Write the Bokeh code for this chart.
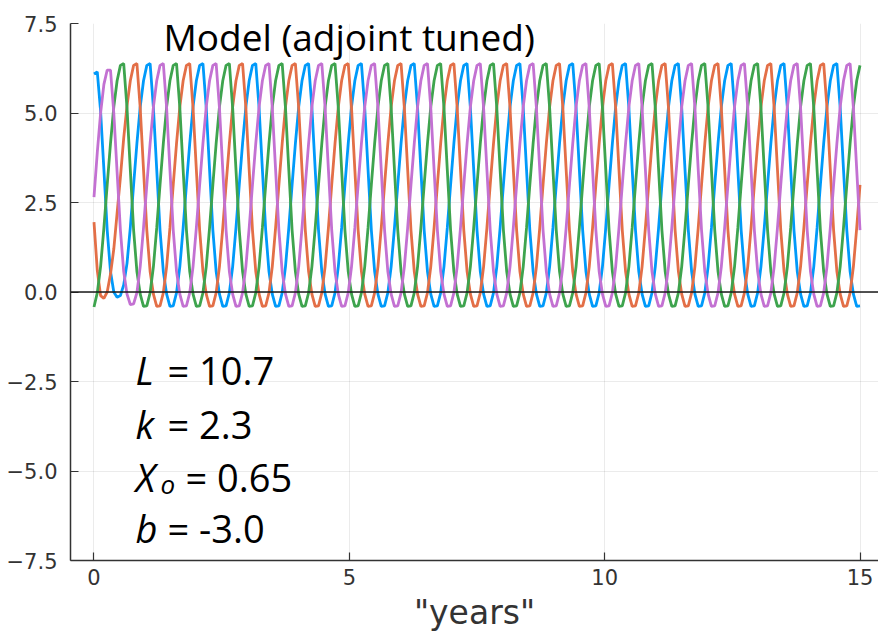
from bokeh.plotting import figure
from bokeh.models import Range1d, FixedTicker, Span, Label
from bokeh.embed import file_html
from bokeh.resources import INLINE

# sampling grid of the curves ("years")
years = [round(i * 15 / 232, 4) for i in range(233)]

series_blue = [
    6.09, 6.15, 5.05, 3.42, 1.73, 0.57, 0.00, -0.15, -0.10, 0.20, 0.80, 1.80, 2.99, 4.15, 5.17, 5.90,
    6.33, 6.38, 5.14, 3.42, 1.73, 0.57, -0.06, -0.40, -0.39, -0.02, 0.71, 1.79, 2.99, 4.15, 5.17, 5.90,
    6.33, 6.38, 5.14, 3.42, 1.73, 0.57, -0.06, -0.40, -0.39, -0.02, 0.71, 1.79, 2.99, 4.15, 5.17, 5.90,
    6.33, 6.38, 5.14, 3.42, 1.73, 0.57, -0.06, -0.40, -0.39, -0.02, 0.71, 1.79, 2.99, 4.15, 5.17, 5.90,
    6.33, 6.38, 5.14, 3.42, 1.73, 0.57, -0.06, -0.40, -0.39, -0.02, 0.71, 1.79, 2.99, 4.15, 5.17, 5.90,
    6.33, 6.38, 5.14, 3.42, 1.73, 0.57, -0.06, -0.40, -0.39, -0.02, 0.71, 1.79, 2.99, 4.15, 5.17, 5.90,
    6.33, 6.38, 5.14, 3.42, 1.73, 0.57, -0.06, -0.40, -0.39, -0.02, 0.71, 1.79, 2.99, 4.15, 5.17, 5.90,
    6.33, 6.38, 5.14, 3.42, 1.73, 0.57, -0.06, -0.40, -0.39, -0.02, 0.71, 1.79, 2.99, 4.15, 5.17, 5.90,
    6.33, 6.38, 5.14, 3.42, 1.73, 0.57, -0.06, -0.40, -0.39, -0.02, 0.71, 1.79, 2.99, 4.15, 5.17, 5.90,
    6.33, 6.38, 5.14, 3.42, 1.73, 0.57, -0.06, -0.40, -0.39, -0.02, 0.71, 1.79, 2.99, 4.15, 5.17, 5.90,
    6.33, 6.38, 5.14, 3.42, 1.73, 0.57, -0.06, -0.40, -0.39, -0.02, 0.71, 1.79, 2.99, 4.15, 5.17, 5.90,
    6.33, 6.38, 5.14, 3.42, 1.73, 0.57, -0.06, -0.40, -0.39, -0.02, 0.71, 1.79, 2.99, 4.15, 5.17, 5.90,
    6.33, 6.38, 5.14, 3.42, 1.73, 0.57, -0.06, -0.40, -0.39, -0.02, 0.71, 1.79, 2.99, 4.15, 5.17, 5.90,
    6.33, 6.38, 5.14, 3.42, 1.73, 0.57, -0.06, -0.40, -0.39, -0.02, 0.71, 1.79, 2.99, 4.15, 5.17, 5.90,
    6.33, 6.38, 5.14, 3.42, 1.73, 0.57, -0.06, -0.40, -0.39,
]

series_orange = [
    1.95, 0.60, -0.10, -0.18, 0.00, 0.50, 1.20, 2.20, 3.20, 4.30, 5.20, 5.90, 6.33, 6.38, 5.14, 3.42,
    1.73, 0.57, -0.06, -0.40, -0.39, -0.02, 0.71, 1.79, 2.99, 4.15, 5.17, 5.90, 6.33, 6.38, 5.14, 3.42,
    1.73, 0.57, -0.06, -0.40, -0.39, -0.02, 0.71, 1.79, 2.99, 4.15, 5.17, 5.90, 6.33, 6.38, 5.14, 3.42,
    1.73, 0.57, -0.06, -0.40, -0.39, -0.02, 0.71, 1.79, 2.99, 4.15, 5.17, 5.90, 6.33, 6.38, 5.14, 3.42,
    1.73, 0.57, -0.06, -0.40, -0.39, -0.02, 0.71, 1.79, 2.99, 4.15, 5.17, 5.90, 6.33, 6.38, 5.14, 3.42,
    1.73, 0.57, -0.06, -0.40, -0.39, -0.02, 0.71, 1.79, 2.99, 4.15, 5.17, 5.90, 6.33, 6.38, 5.14, 3.42,
    1.73, 0.57, -0.06, -0.40, -0.39, -0.02, 0.71, 1.79, 2.99, 4.15, 5.17, 5.90, 6.33, 6.38, 5.14, 3.42,
    1.73, 0.57, -0.06, -0.40, -0.39, -0.02, 0.71, 1.79, 2.99, 4.15, 5.17, 5.90, 6.33, 6.38, 5.14, 3.42,
    1.73, 0.57, -0.06, -0.40, -0.39, -0.02, 0.71, 1.79, 2.99, 4.15, 5.17, 5.90, 6.33, 6.38, 5.14, 3.42,
    1.73, 0.57, -0.06, -0.40, -0.39, -0.02, 0.71, 1.79, 2.99, 4.15, 5.17, 5.90, 6.33, 6.38, 5.14, 3.42,
    1.73, 0.57, -0.06, -0.40, -0.39, -0.02, 0.71, 1.79, 2.99, 4.15, 5.17, 5.90, 6.33, 6.38, 5.14, 3.42,
    1.73, 0.57, -0.06, -0.40, -0.39, -0.02, 0.71, 1.79, 2.99, 4.15, 5.17, 5.90, 6.33, 6.38, 5.14, 3.42,
    1.73, 0.57, -0.06, -0.40, -0.39, -0.02, 0.71, 1.79, 2.99, 4.15, 5.17, 5.90, 6.33, 6.38, 5.14, 3.42,
    1.73, 0.57, -0.06, -0.40, -0.39, -0.02, 0.71, 1.79, 2.99, 4.15, 5.17, 5.90, 6.33, 6.38, 5.14, 3.42,
    1.73, 0.57, -0.06, -0.40, -0.39, -0.02, 0.71, 1.79, 2.99,
]

series_green = [
    -0.42, -0.02, 0.71, 1.79, 2.99, 4.15, 5.17, 5.90, 6.33, 6.38, 5.14, 3.42, 1.73, 0.57, -0.06, -0.40,
    -0.39, -0.02, 0.71, 1.79, 2.99, 4.15, 5.17, 5.90, 6.33, 6.38, 5.14, 3.42, 1.73, 0.57, -0.06, -0.40,
    -0.39, -0.02, 0.71, 1.79, 2.99, 4.15, 5.17, 5.90, 6.33, 6.38, 5.14, 3.42, 1.73, 0.57, -0.06, -0.40,
    -0.39, -0.02, 0.71, 1.79, 2.99, 4.15, 5.17, 5.90, 6.33, 6.38, 5.14, 3.42, 1.73, 0.57, -0.06, -0.40,
    -0.39, -0.02, 0.71, 1.79, 2.99, 4.15, 5.17, 5.90, 6.33, 6.38, 5.14, 3.42, 1.73, 0.57, -0.06, -0.40,
    -0.39, -0.02, 0.71, 1.79, 2.99, 4.15, 5.17, 5.90, 6.33, 6.38, 5.14, 3.42, 1.73, 0.57, -0.06, -0.40,
    -0.39, -0.02, 0.71, 1.79, 2.99, 4.15, 5.17, 5.90, 6.33, 6.38, 5.14, 3.42, 1.73, 0.57, -0.06, -0.40,
    -0.39, -0.02, 0.71, 1.79, 2.99, 4.15, 5.17, 5.90, 6.33, 6.38, 5.14, 3.42, 1.73, 0.57, -0.06, -0.40,
    -0.39, -0.02, 0.71, 1.79, 2.99, 4.15, 5.17, 5.90, 6.33, 6.38, 5.14, 3.42, 1.73, 0.57, -0.06, -0.40,
    -0.39, -0.02, 0.71, 1.79, 2.99, 4.15, 5.17, 5.90, 6.33, 6.38, 5.14, 3.42, 1.73, 0.57, -0.06, -0.40,
    -0.39, -0.02, 0.71, 1.79, 2.99, 4.15, 5.17, 5.90, 6.33, 6.38, 5.14, 3.42, 1.73, 0.57, -0.06, -0.40,
    -0.39, -0.02, 0.71, 1.79, 2.99, 4.15, 5.17, 5.90, 6.33, 6.38, 5.14, 3.42, 1.73, 0.57, -0.06, -0.40,
    -0.39, -0.02, 0.71, 1.79, 2.99, 4.15, 5.17, 5.90, 6.33, 6.38, 5.14, 3.42, 1.73, 0.57, -0.06, -0.40,
    -0.39, -0.02, 0.71, 1.79, 2.99, 4.15, 5.17, 5.90, 6.33, 6.38, 5.14, 3.42, 1.73, 0.57, -0.06, -0.40,
    -0.39, -0.02, 0.71, 1.79, 2.99, 4.15, 5.17, 5.90, 6.33,
]

series_purple = [
    2.65, 3.90, 5.00, 5.80, 6.20, 6.20, 5.00, 3.35, 1.73, 0.57, -0.06, -0.35, -0.33, -0.02, 0.71, 1.79,
    2.99, 4.15, 5.17, 5.90, 6.33, 6.38, 5.14, 3.42, 1.73, 0.57, -0.06, -0.40, -0.39, -0.02, 0.71, 1.79,
    2.99, 4.15, 5.17, 5.90, 6.33, 6.38, 5.14, 3.42, 1.73, 0.57, -0.06, -0.40, -0.39, -0.02, 0.71, 1.79,
    2.99, 4.15, 5.17, 5.90, 6.33, 6.38, 5.14, 3.42, 1.73, 0.57, -0.06, -0.40, -0.39, -0.02, 0.71, 1.79,
    2.99, 4.15, 5.17, 5.90, 6.33, 6.38, 5.14, 3.42, 1.73, 0.57, -0.06, -0.40, -0.39, -0.02, 0.71, 1.79,
    2.99, 4.15, 5.17, 5.90, 6.33, 6.38, 5.14, 3.42, 1.73, 0.57, -0.06, -0.40, -0.39, -0.02, 0.71, 1.79,
    2.99, 4.15, 5.17, 5.90, 6.33, 6.38, 5.14, 3.42, 1.73, 0.57, -0.06, -0.40, -0.39, -0.02, 0.71, 1.79,
    2.99, 4.15, 5.17, 5.90, 6.33, 6.38, 5.14, 3.42, 1.73, 0.57, -0.06, -0.40, -0.39, -0.02, 0.71, 1.79,
    2.99, 4.15, 5.17, 5.90, 6.33, 6.38, 5.14, 3.42, 1.73, 0.57, -0.06, -0.40, -0.39, -0.02, 0.71, 1.79,
    2.99, 4.15, 5.17, 5.90, 6.33, 6.38, 5.14, 3.42, 1.73, 0.57, -0.06, -0.40, -0.39, -0.02, 0.71, 1.79,
    2.99, 4.15, 5.17, 5.90, 6.33, 6.38, 5.14, 3.42, 1.73, 0.57, -0.06, -0.40, -0.39, -0.02, 0.71, 1.79,
    2.99, 4.15, 5.17, 5.90, 6.33, 6.38, 5.14, 3.42, 1.73, 0.57, -0.06, -0.40, -0.39, -0.02, 0.71, 1.79,
    2.99, 4.15, 5.17, 5.90, 6.33, 6.38, 5.14, 3.42, 1.73, 0.57, -0.06, -0.40, -0.39, -0.02, 0.71, 1.79,
    2.99, 4.15, 5.17, 5.90, 6.33, 6.38, 5.14, 3.42, 1.73, 0.57, -0.06, -0.40, -0.39, -0.02, 0.71, 1.79,
    2.99, 4.15, 5.17, 5.90, 6.33, 6.38, 5.14, 3.42, 1.73,
]

x_ticks = [0, 5, 10, 15]
y_ticks = [-7.5, -5.0, -2.5, 0.0, 2.5, 5.0, 7.5]
y_tick_labels = ["\u22127.5", "\u22125.0", "\u22122.5", "0.0", "2.5", "5.0", "7.5"]
title_text = "Model (adjoint tuned)"
x_label = '"years"'
params = [("L", "", "= 10.7"), ("k", "", "= 2.3"), ("X", "o", "= 0.65"), ("b", "", "= -3.0")]

colors = ["#009AFA", "#E36F47", "#3EA44E", "#C371D2"]

p = figure(width=878, height=639, output_backend="svg", toolbar_location=None,
           x_range=Range1d(-0.46, 15.362), y_range=Range1d(-7.5, 7.5),
           min_border_left=70, min_border_right=0, min_border_top=23, min_border_bottom=79)
p.outline_line_color = None
p.background_fill_color = "white"
p.border_fill_color = "white"

for ys, c in zip([series_blue, series_orange, series_green, series_purple], colors):
    p.line(years, ys, line_color=c, line_width=2.8)

p.add_layout(Span(location=0, dimension="width", line_color="#1a1a1a", line_width=1.6))

# axes
p.xaxis.ticker = FixedTicker(ticks=x_ticks)
p.yaxis.ticker = FixedTicker(ticks=y_ticks)
p.xaxis.major_label_overrides = {t: str(t) for t in x_ticks}
p.yaxis.major_label_overrides = {t: s for t, s in zip(y_ticks, y_tick_labels)}
for ax in [p.xaxis[0], p.yaxis[0]]:
    ax.axis_line_color = "#333333"
    ax.axis_line_width = 1.5
    ax.major_tick_in = 8
    ax.major_tick_out = 0
    ax.major_tick_line_color = "#333333"
    ax.major_tick_line_width = 1.2
    ax.minor_tick_line_color = None
    ax.major_label_text_font = "DejaVu Sans"
    ax.major_label_text_font_size = "21px"
    ax.major_label_text_color = "#333333"
p.yaxis.major_label_standoff = 13
p.xaxis.major_label_standoff = 8
p.xaxis.axis_label = x_label
p.xaxis.axis_label_text_font = "DejaVu Sans"
p.xaxis.axis_label_text_font_size = "33px"
p.xaxis.axis_label_text_font_style = "normal"
p.xaxis.axis_label_text_color = "#333333"
p.xaxis.axis_label_standoff = 5

p.xgrid.grid_line_color = "#000000"
p.xgrid.grid_line_alpha = 0.08
p.ygrid.grid_line_color = "#000000"
p.ygrid.grid_line_alpha = 0.08

# title overlay
p.add_layout(Label(x=1.361, y=7.14, text=title_text, text_font="Open Sans",
                   text_font_size="37px", text_color="black", text_baseline="alphabetic"))

# parameter annotations
base_y = [-2.165, -3.70, -5.18, -6.58]
for (var, sub, rest), yb in zip(params, base_y):
    p.add_layout(Label(x=0.813, y=yb, text=var, text_font="Open Sans", text_font_style="italic",
                       text_font_size="38px", text_color="black", text_baseline="alphabetic"))
    if sub:
        p.add_layout(Label(x=1.30, y=yb - 0.17, text=sub, text_font="Open Sans", text_font_style="italic",
                           text_font_size="26px", text_color="black", text_baseline="alphabetic"))
        p.add_layout(Label(x=1.792, y=yb, text=rest, text_font="Open Sans",
                           text_font_size="38px", text_color="black", text_baseline="alphabetic"))
    else:
        p.add_layout(Label(x=1.439, y=yb, text=rest, text_font="Open Sans",
                           text_font_size="38px", text_color="black", text_baseline="alphabetic"))

open("out.html", "w").write(file_html(p, INLINE))
